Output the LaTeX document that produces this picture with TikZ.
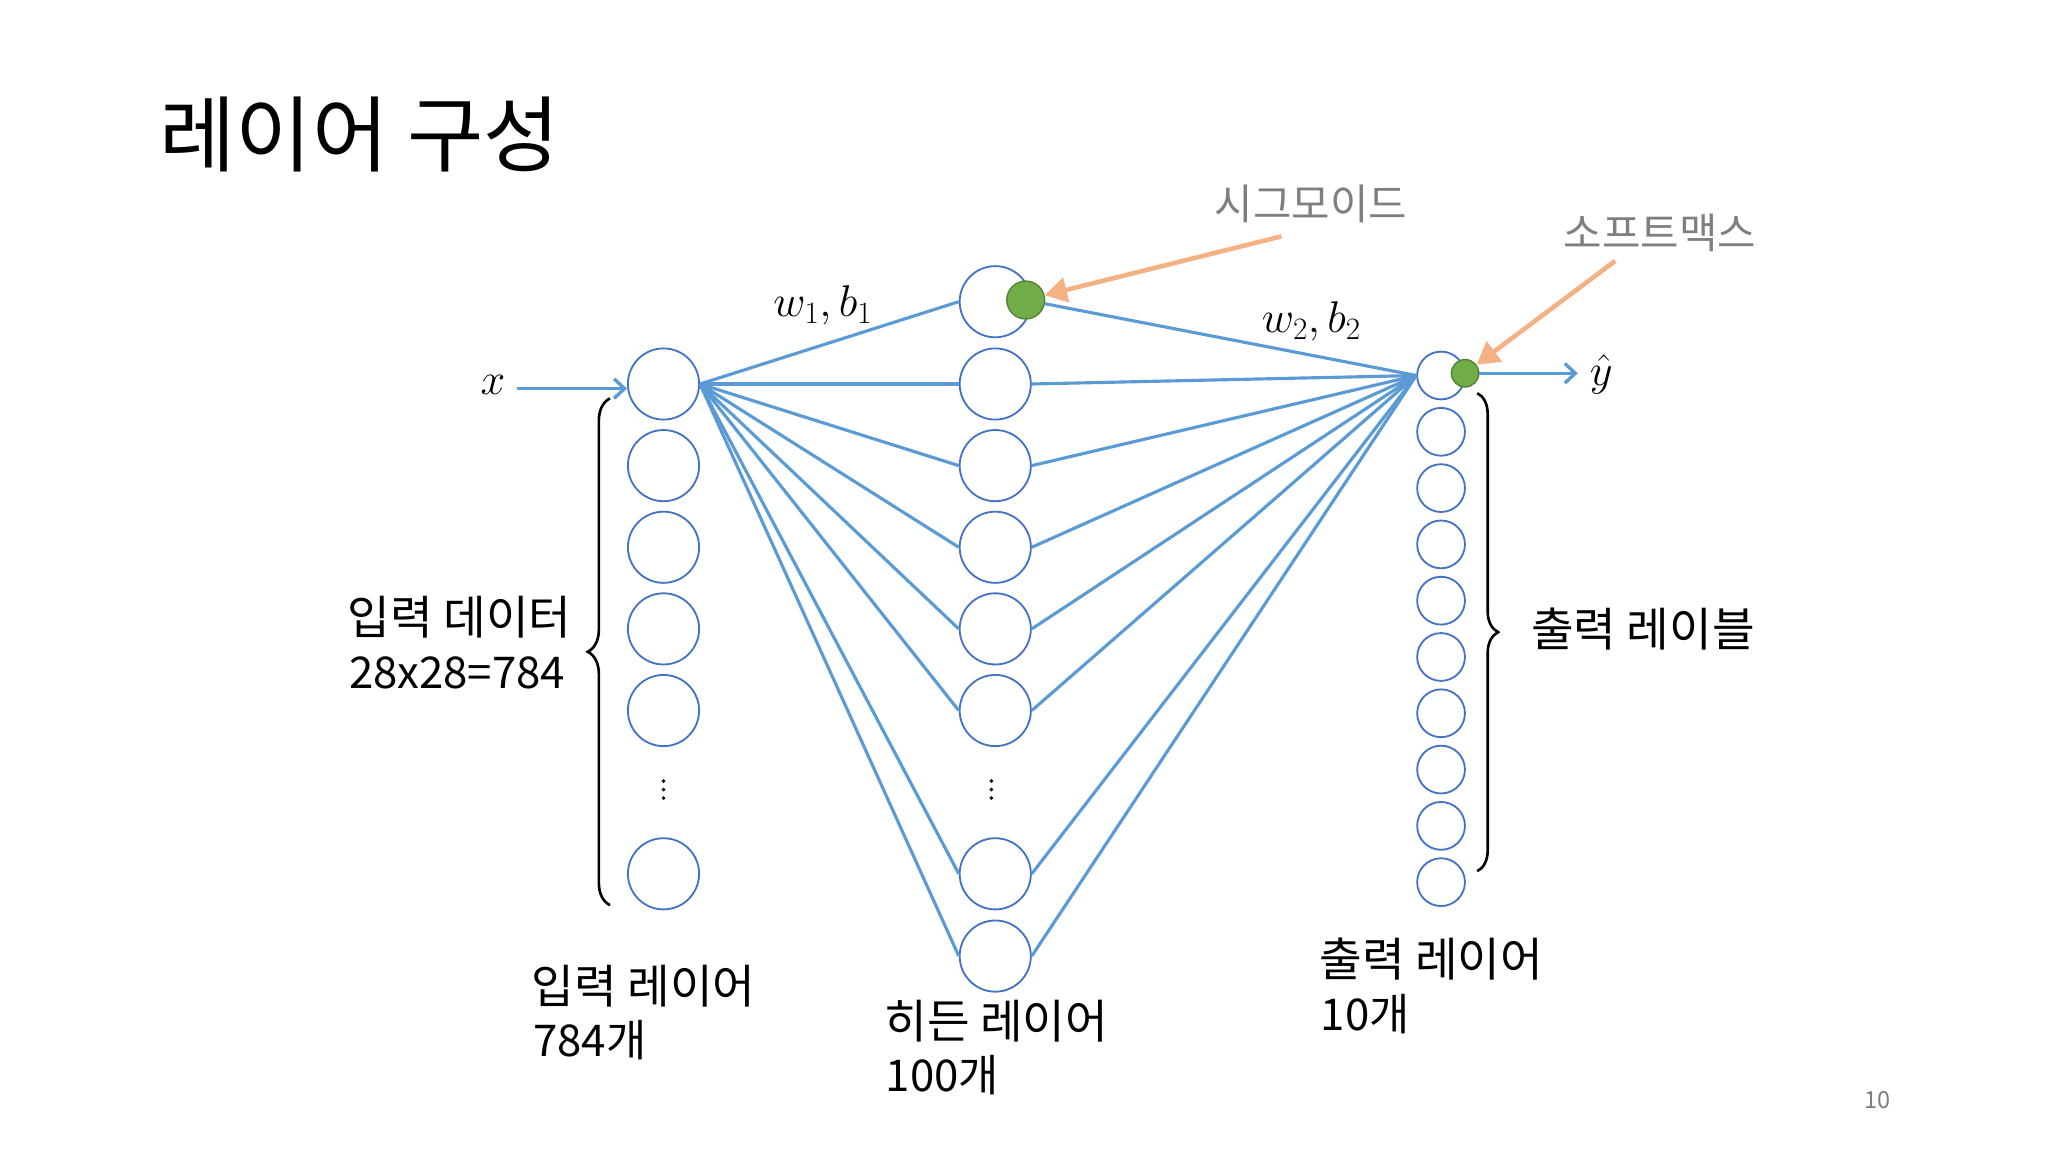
\RequirePackage{fix-cm}
\documentclass[tikz,border=0pt]{standalone}
\usepackage{fontspec}
\setmainfont{Noto Sans CJK KR}
\usetikzlibrary{arrows.meta,decorations.pathreplacing}
\definecolor{lineblue}{HTML}{5B9BD5}
\definecolor{nodeblue}{HTML}{4472C4}
\definecolor{sgreen}{HTML}{70AD47}
\definecolor{sgreendark}{HTML}{507E32}
\definecolor{orangearr}{HTML}{F4B183}
\definecolor{graytext}{HTML}{7F7F7F}
\begin{document}
\begin{tikzpicture}[x=1pt,y=-1pt,
  bigneuron/.style={circle,draw=nodeblue,line width=1.4pt,minimum size=54.5pt,inner sep=0pt},
  smallneuron/.style={circle,draw=nodeblue,line width=1.4pt,minimum size=36.6pt,inner sep=0pt},
  gdot/.style={circle,fill=sgreen,draw=sgreendark,line width=1pt,inner sep=0pt},
  conn/.style={draw=lineblue,line width=2.4pt},
  inarrow/.style={draw=lineblue,line width=2.6pt,-{Straight Barb[length=8pt,width=15pt]}},
  oarrow/.style={draw=orangearr,line width=3.5pt,-{Triangle[length=17pt,width=19pt]}},
  title/.style={anchor=base west,inner sep=0pt,font=\fontsize{63.5pt}{66pt}\selectfont},
  lbl/.style={anchor=base west,inner sep=0pt,font=\fontsize{35.5pt}{41pt}\selectfont},
  nlbl/.style={anchor=base west,inner sep=0pt,font=\fontsize{33.5pt}{41pt}\selectfont},
  glbl/.style={anchor=base west,inner sep=0pt,text=graytext,font=\fontsize{32pt}{34pt}\selectfont},
  mlbl/.style={inner sep=0pt,font=\fontsize{34pt}{36pt}\selectfont},
  bracestyle/.style={draw=black,line width=2pt,decorate},
  dotmark/.style={circle,fill=black,inner sep=0pt,minimum size=3pt}
]
\useasboundingbox (0,0) rectangle (1568,882);
\fill[white] (0,0) rectangle (1568,882);

% title
\node[title] (title) at (122,127) {레이어 구성};

% input layer
\foreach \n/\yy in {1/294,2/356.5,3/419,4/481.5,5/544,6/669}
  \node[bigneuron] (i\n) at (508,\yy) {};
% hidden layer
\foreach \n/\yy in {1/231,2/294,3/356.5,4/419,5/481.5,6/544,7/669,8/732}
  \node[bigneuron] (h\n) at (762,\yy) {};
% output layer
\foreach \n in {1,...,10}
  \node[smallneuron] (o\n) at (1103.3,{287.5+43.1*(\n-1)}) {};

% vertical dots
\foreach \n/\yy in {a/598,b/604.5,c/611}{
  \node[dotmark] (di\n) at (508,\yy) {};
  \node[dotmark] (dh\n) at (759,\yy) {};
}

% connectors input -> hidden
\foreach \k in {1,...,8}
  \draw[conn] (i1.east) -- (h\k.west);

% activation dots
\node[gdot,minimum size=29pt] (g1) at (785.3,229.7) {};
\node[gdot,minimum size=21pt] (g2) at (1121.7,285.8) {};

% connectors hidden -> output
\draw[conn] (g1) -- (o1.west);
\foreach \k in {2,...,8}
  \draw[conn] (h\k.east) -- (o1.west);

% input arrow
\coordinate (xs) at (396,297.5);
\draw[inarrow] (xs) -- (xs -| i1.west);
\node[mlbl] (xl) at (377.5,295) {$x$};

% output arrow
\coordinate (ye) at (1208,286);
\draw[inarrow] (g2.east) -- (ye |- g2.east);
\node[mlbl] (yl) at (1226,287) {$\hat{y}$};

% weight labels
\node[mlbl] (wb1) at (630,234) {$w_1, b_1$};
\node[mlbl] (wb2) at (1004,246) {$w_2, b_2$};

% orange annotations
\node[glbl] (sig) at (930,168) {시그모이드};
\node[glbl] (soft) at (1197,190) {소프트맥스};
\coordinate (sa) at (981,181);
\coordinate (sb) at (1236.6,199.8);
\draw[oarrow] (sa) -- (g1);
\draw[oarrow] (sb) -- (g2);

% braces
\coordinate (lb1) at (467,693);
\coordinate (lb2) at (467,305);
\draw[bracestyle,decoration={brace,amplitude=17pt}] (lb1) -- (lb2);
\coordinate (rb1) at (1131,301);
\coordinate (rb2) at (1131,667);
\draw[bracestyle,decoration={brace,amplitude=16pt}] (rb1) -- (rb2);

% side labels
\node[lbl] (in1) at (266,486) {입력 데이터};
\node[nlbl] (in2) at (267,527) {28x28=784};
\node[lbl] (out1) at (1172,495) {출력 레이블};

% bottom labels
\node[lbl] (il1) at (407,768) {입력 레이어};
\node[nlbl] (il2) at (408,809) {784개};
\node[lbl] (hl1) at (677,795) {히든 레이어};
\node[nlbl] (hl2) at (678,836) {100개};
\node[lbl] (ol1) at (1010,748) {출력 레이어};
\node[nlbl] (ol2) at (1011,789) {10개};

% page number
\node[anchor=base west,inner sep=0pt,text=graytext,font=\fontsize{18pt}{20pt}\selectfont] (pg) at (1427,848.6) {10};
\end{tikzpicture}
\end{document}
